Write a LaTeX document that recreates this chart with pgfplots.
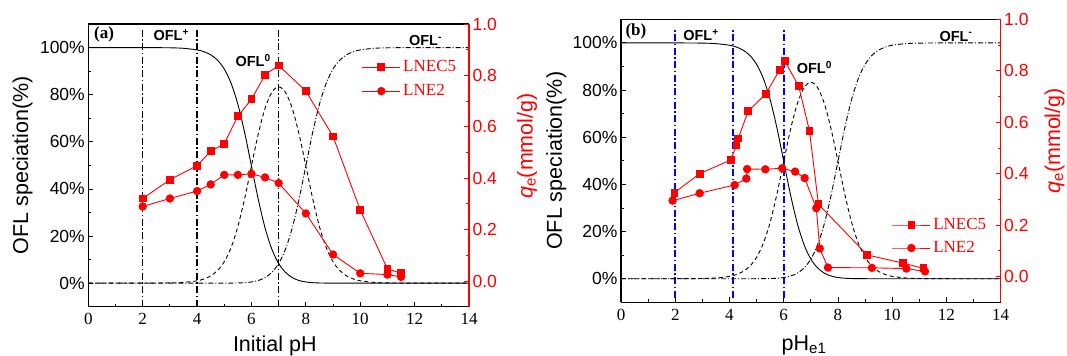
\documentclass[border=0pt]{standalone}
\usepackage{fontspec}
\setmainfont{Liberation Serif}
\setsansfont{Liberation Sans}
\usepackage{pgfplots}
\usepackage{pgfplotstable}
\pgfplotsset{compat=1.18}

\pgfplotstableread{
pH pos neu neg
0 100 0 0
1 100 0.001 0
2 99.99 0.01 0
3 99.9 0.1 0
3.5 99.68 0.32 0
4 99.01 0.99 0
4.25 98.25 1.75 0
4.5 96.93 3.07 0.001
4.75 94.67 5.32 0.003
5 90.90 9.09 0.009
5.25 84.88 15.09 0.027
5.5 75.92 24.01 0.076
5.75 63.88 35.92 0.20
6 49.75 49.75 0.50
6.25 35.59 63.29 1.125
6.5 23.46 74.19 2.35
6.75 14.41 81.03 4.56
7 8.33 83.33 8.33
7.25 4.56 81.03 14.41
7.5 2.35 74.19 23.46
7.75 1.125 63.29 35.59
8 0.50 49.75 49.75
8.25 0.20 35.92 63.88
8.5 0.076 24.01 75.92
8.75 0.027 15.09 84.88
9 0.009 9.09 90.90
9.25 0.003 5.32 94.67
9.5 0.001 3.07 96.93
9.75 0 1.75 98.25
10 0 0.99 99.01
10.5 0 0.32 99.68
11 0 0.1 99.9
12 0 0.01 99.99
13 0 0.001 100
14 0 0 100
}\spec

\pgfplotstableread{
x y
2 0.321
3 0.394
4 0.449
4.5 0.505
5 0.534
5.5 0.642
6 0.707
6.5 0.802
7 0.839
8 0.739
9 0.5625
10 0.276
11 0.047
11.5 0.030
}\aLNEC

\pgfplotstableread{
x y
2 0.290
3 0.321
4 0.350
4.5 0.376
5 0.413
5.5 0.413
6 0.417
6.5 0.403
7 0.381
8 0.263
9 0.103
10 0.030
11 0.025
11.5 0.016
}\aLNE

\pgfplotstableread{
x y
1.97 0.326
2.90 0.400
4.04 0.453
4.26 0.511
4.32 0.537
4.69 0.643
5.33 0.709
5.85 0.803
6.03 0.839
6.55 0.741
6.95 0.566
7.28 0.281
9.08 0.084
10.41 0.052
11.15 0.032
}\bLNEC

\pgfplotstableread{
x y
1.90 0.295
2.90 0.324
4.19 0.356
4.62 0.381
4.65 0.418
5.32 0.417
5.94 0.421
6.42 0.408
6.77 0.383
7.20 0.266
7.33 0.109
7.63 0.035
9.25 0.034
10.52 0.031
11.21 0.020
}\bLNE

\newcommand\tsf{\sffamily\fontsize{17.5bp}{20bp}\selectfont}
\newcommand\lab{\sffamily\fontsize{21.5bp}{24bp}\selectfont}
\newcommand\ofl{\sffamily\bfseries\fontsize{14.5bp}{16bp}\selectfont}

\pgfplotsset{
  base/.style={
    scale only axis, xmin=0, xmax=14,
    tick align=inside, major tick length=5bp, minor tick length=3bp,
    every tick/.style={line width=0.8bp},
    axis line style={line width=1.1bp},
  },
  leftax/.style={base,
    ymin=-10, ymax=110,
    axis y line*=left, xtick pos=bottom,
    xtick={0,2,...,14}, minor x tick num=1,
    ytick={0,20,40,60,80,100},
    yticklabels={0\%,20\%,40\%,60\%,80\%,100\%},
    minor y tick num=1,
    /pgf/number format/assume math mode=true,
    xticklabel style={font=\fontsize{17bp}{20bp}\selectfont, yshift=-3bp},
    yticklabel style={font=\tsf},
  },
  rightax/.style={base,
    ymin=-0.1, ymax=1.0,
    hide x axis, axis y line*=right,
    ytick={0,0.2,0.4,0.6,0.8,1.0},
    yticklabels={0.0,0.2,0.4,0.6,0.8,1.0},
    minor y tick num=1,
    y axis line style={red, line width=1.1bp},
    every y tick/.append style={red},
    every minor y tick/.append style={red},
    yticklabel style={font=\tsf, text=red},
    legend image code/.code={\draw[mark repeat=2,mark phase=2] plot coordinates {(0bp,0bp) (19bp,0bp) (38bp,0bp)};},
    legend cell align=left,
  },
  spos/.style={black, line width=0.9bp, smooth},
  sneu/.style={black, line width=0.9bp, smooth, dash pattern=on 4bp off 3bp},
  sneg/.style={black, line width=0.9bp, smooth, dash pattern=on 5bp off 2bp on 1bp off 2bp},
  vline/.style={black, line width=1.5bp, dash pattern=on 7bp off 2.5bp on 1.5bp off 2.5bp},
  bline/.style={color=blue, line width=1.6bp, dash pattern=on 7bp off 2.5bp on 1.5bp off 2.5bp},
  sq/.style={red, line width=0.9bp, mark=square*, mark size=3.4bp, mark options={solid}},
  ci/.style={red, line width=0.9bp, mark=*, mark size=3.7bp, mark options={solid}},
}

\begin{document}
\begin{tikzpicture}
\path[use as bounding box] (0,0) rectangle (1067bp,356bp);

% ---------------- panel (a) ----------------
\begin{axis}[leftax, at={(88.3bp,49.3bp)}, anchor=south west,
  width=380.7bp, height=282.7bp,
  xlabel={Initial pH}, ylabel={OFL speciation(\%)},
  xlabel style={font=\lab, at={(axis description cs:0.49,-0.159)}, anchor=base},
  ylabel style={font=\lab, at={(axis description cs:-0.158,0.5)}, anchor=base},
]
\addplot[vline] coordinates {(2,-10) (2,108)};
\addplot[vline] coordinates {(4,-10) (4,108)};
\addplot[vline] coordinates {(7,-10) (7,108)};
\addplot[spos] table[x=pH,y=pos] {\spec};
\addplot[sneu] table[x=pH,y=neu] {\spec};
\addplot[sneg] table[x=pH,y=neg] {\spec};
\node[font=\bfseries\fontsize{17bp}{20bp}\selectfont] at (axis cs:0.58,105.5) {(a)};
\node[font=\ofl] at (axis cs:3.05,105.3) {OFL\textsuperscript{+}};
\node[font=\ofl] at (axis cs:6.06,94.5) {OFL\textsuperscript{0}};
\node[font=\ofl] at (axis cs:12.4,102.8) {OFL\textsuperscript{-}};
\end{axis}
\begin{axis}[rightax, at={(88.3bp,49.3bp)}, anchor=south west,
  width=380.7bp, height=282.7bp,
  ylabel={\textit{q}\textsubscript{e}(mmol/g)},
  ylabel style={font=\lab, text=red, at={(axis description cs:1.167,0.568)}, anchor=base},
  legend style={draw=none, fill=none, at={(axis description cs:0.718,0.805)}, anchor=west,
    inner sep=0pt, row sep=7bp,
    nodes={inner ysep=1bp, inner xsep=2.5bp, text height=12bp, text depth=3bp, font=\fontsize{17bp}{20bp}\selectfont, text=red}},
]
\addplot[sq] table[x=x,y=y] {\aLNEC};
\addlegendentry{LNEC5}
\addplot[ci] table[x=x,y=y] {\aLNE};
\addlegendentry{LNE2}
\end{axis}

% ---------------- panel (b) ----------------
\begin{axis}[leftax, at={(621bp,53.7bp)}, anchor=south west,
  width=379.7bp, height=283bp,
  xlabel={pH\textsubscript{e1}}, ylabel={OFL speciation(\%)},
  xlabel style={font=\lab, at={(axis description cs:0.482,-0.169)}, anchor=base},
  ylabel style={font=\lab, at={(axis description cs:-0.156,0.5)}, anchor=base},
]
\addplot[bline] coordinates {(2,-8) (2,106)};
\addplot[bline] coordinates {(4.14,-8) (4.14,106)};
\addplot[bline] coordinates {(6.02,-8) (6.02,106)};
\addplot[spos] table[x=pH,y=pos] {\spec};
\addplot[sneu] table[x=pH,y=neu] {\spec};
\addplot[sneg] table[x=pH,y=neg] {\spec};
\node[font=\bfseries\fontsize{17bp}{20bp}\selectfont] at (axis cs:0.55,104.7) {(b)};
\node[font=\ofl] at (axis cs:2.95,103.3) {OFL\textsuperscript{+}};
\node[font=\ofl] at (axis cs:7.13,89.4) {OFL\textsuperscript{0}};
\node[font=\ofl] at (axis cs:12.35,102.9) {OFL\textsuperscript{-}};
\end{axis}
\begin{axis}[rightax, at={(621bp,53.7bp)}, anchor=south west,
  width=379.7bp, height=283bp,
  ylabel={\textit{q}\textsubscript{e}(mmol/g)},
  ylabel style={font=\lab, text=red, at={(axis description cs:1.1565,0.57)}, anchor=base},
  legend style={draw=none, fill=none, at={(axis description cs:0.713,0.2325)}, anchor=west,
    inner sep=0pt, row sep=6bp,
    nodes={inner ysep=1bp, inner xsep=2.5bp, text height=12bp, text depth=3bp, font=\fontsize{17bp}{20bp}\selectfont, text=red}},
]
\addplot[sq] table[x=x,y=y] {\bLNEC};
\addlegendentry{LNEC5}
\addplot[ci] table[x=x,y=y] {\bLNE};
\addlegendentry{LNE2}
\end{axis}
\end{tikzpicture}
\end{document}
